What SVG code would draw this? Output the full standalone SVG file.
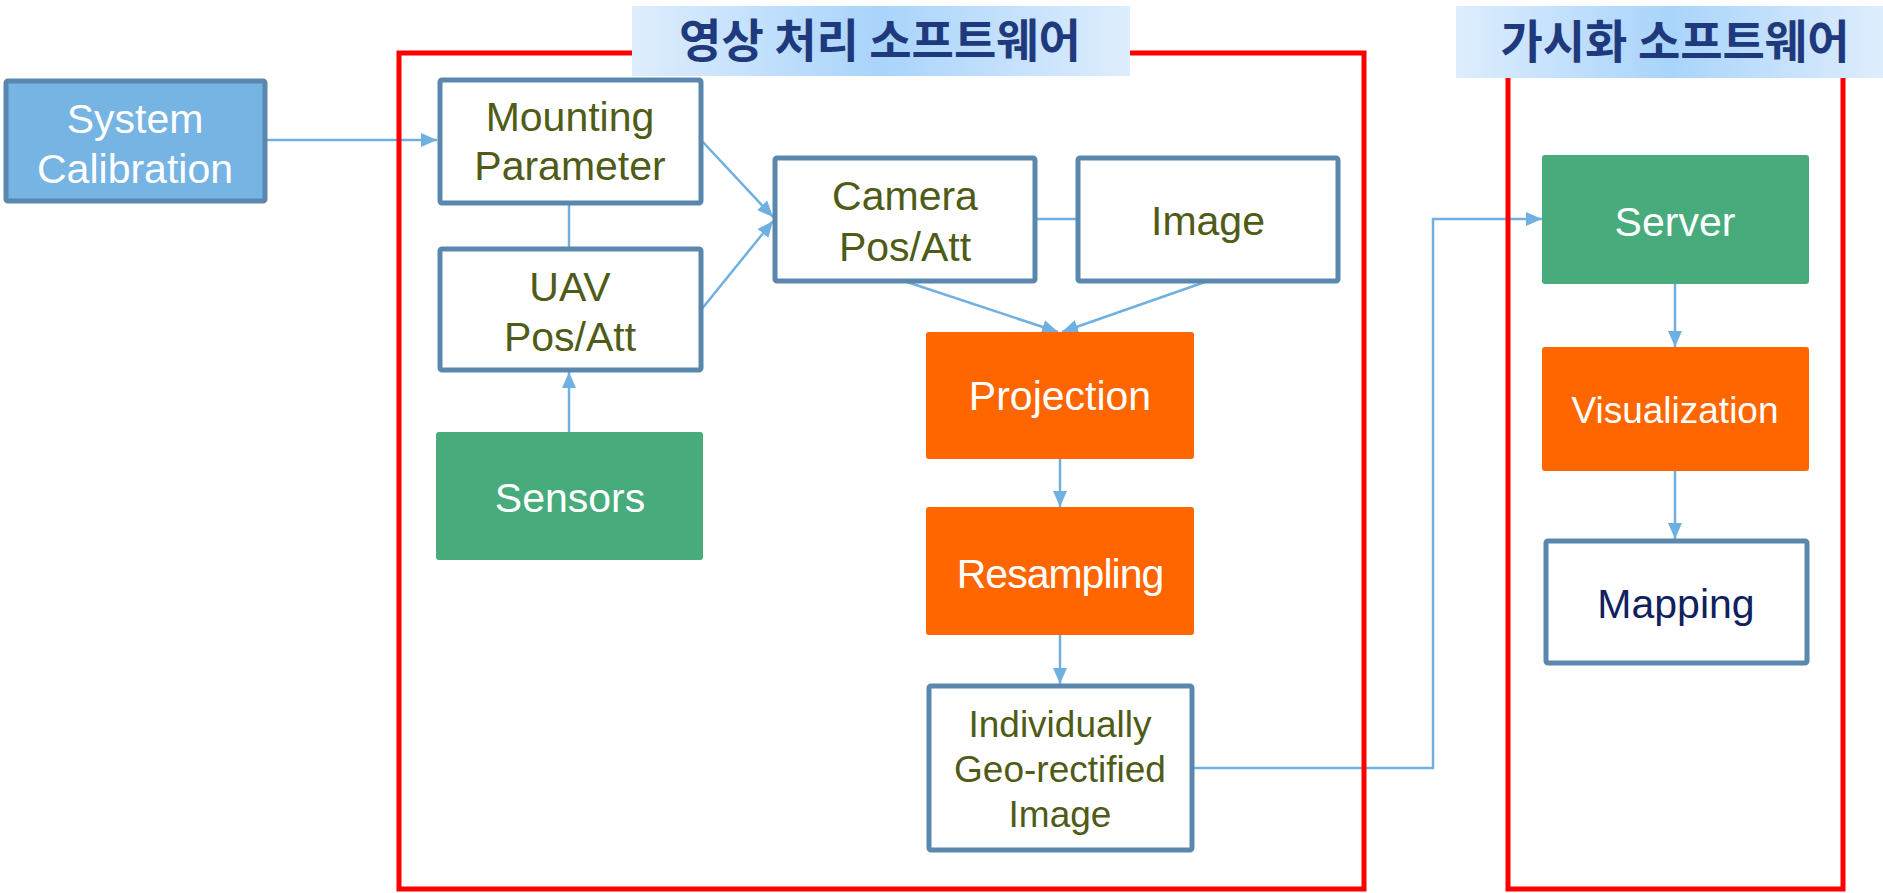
<svg xmlns="http://www.w3.org/2000/svg" width="1883" height="893" viewBox="0 0 1883 893">
<defs>
<linearGradient id="bannerGrad" x1="0" y1="0" x2="1" y2="0">
<stop offset="0" stop-color="#deedfd"/>
<stop offset="0.5" stop-color="#a9d4fb"/>
<stop offset="1" stop-color="#deedfd"/>
</linearGradient>
<marker id="arr" viewBox="0 0 16 14" refX="16" refY="7" markerWidth="16" markerHeight="14" markerUnits="userSpaceOnUse" orient="auto">
<path d="M0,0 L16,7 L0,14 Z" fill="#6fb0e0"/>
</marker>
</defs>
<style>
.conn{fill:none;stroke:#6fb0e0;stroke-width:2.5}
.frame{fill:none;stroke:#ff0000;stroke-width:5}
.banner{fill:url(#bannerGrad)}
.title{font-family:"Noto Sans CJK KR","Noto Sans CJK SC",sans-serif;font-weight:bold;font-size:46px;fill:#1f3a7c;text-anchor:middle}
.outline{fill:#ffffff;stroke:#5a87ae;stroke-width:5}
.green{fill:#47ab7c}
.orange{fill:#ff6600}
.blue{fill:#76b4e4;stroke:#5a87ae;stroke-width:5}
.t{font-family:"Liberation Sans",Arial,sans-serif;font-size:41px;text-anchor:middle}
.sm{font-size:37px}
.olive{fill:#4f5b16}
.white{fill:#ffffff}
.navy{fill:#0f215e}
</style>

<g id="connectors">
<line class="conn" x1="267" y1="140" x2="437" y2="140" marker-end="url(#arr)"/>
<line class="conn" x1="569" y1="205" x2="569" y2="247"/>
<line class="conn" x1="569" y1="432" x2="569" y2="372" marker-end="url(#arr)"/>
<line class="conn" x1="701" y1="140" x2="773" y2="217" marker-end="url(#arr)"/>
<line class="conn" x1="701" y1="310" x2="773" y2="221" marker-end="url(#arr)"/>
<line class="conn" x1="1036" y1="219" x2="1076" y2="219"/>
<line class="conn" x1="907" y1="282" x2="1058" y2="332" marker-end="url(#arr)"/>
<line class="conn" x1="1205" y1="282" x2="1062" y2="332" marker-end="url(#arr)"/>
<line class="conn" x1="1060" y1="459" x2="1060" y2="507" marker-end="url(#arr)"/>
<line class="conn" x1="1060" y1="635" x2="1060" y2="684" marker-end="url(#arr)"/>
<polyline class="conn" points="1194,768 1433,768 1433,219 1542,219" marker-end="url(#arr)"/>
<line class="conn" x1="1675" y1="283" x2="1675" y2="347" marker-end="url(#arr)"/>
<line class="conn" x1="1675" y1="471" x2="1675" y2="539" marker-end="url(#arr)"/>
</g>

<g id="frame-processing">
<rect class="frame" x="399" y="53" width="965" height="836"/>
<rect class="banner" x="632" y="6" width="498" height="70"/>
<text class="title" x="880" y="57">영상 처리 소프트웨어</text>
</g>

<g id="frame-visualization">
<rect class="frame" x="1508" y="53" width="335" height="836"/>
<rect class="banner" x="1456" y="6" width="427" height="72"/>
<text class="title" x="1675" y="58">가시화 소프트웨어</text>
</g>

<g id="system-calibration">
<rect class="blue" x="6" y="81" width="259" height="120" rx="2"/>
<text class="t white" x="135" y="133">System</text>
<text class="t white" x="135" y="183">Calibration</text>
</g>

<g id="mounting-parameter">
<rect class="outline" x="440" y="80" width="261" height="123" rx="2"/>
<text class="t olive" x="570" y="131">Mounting</text>
<text class="t olive" x="570" y="180">Parameter</text>
</g>

<g id="uav-pos-att">
<rect class="outline" x="440" y="249" width="261" height="121" rx="2"/>
<text class="t olive" x="570" y="301">UAV</text>
<text class="t olive" x="570" y="351">Pos/Att</text>
</g>

<g id="sensors">
<rect class="green" x="436" y="432" width="267" height="128" rx="3"/>
<text class="t white" x="570" y="512">Sensors</text>
</g>

<g id="camera-pos-att">
<rect class="outline" x="775" y="158" width="260" height="123" rx="2"/>
<text class="t olive" x="905" y="210">Camera</text>
<text class="t olive" x="905" y="261">Pos/Att</text>
</g>

<g id="image">
<rect class="outline" x="1078" y="158" width="260" height="123" rx="2"/>
<text class="t olive" x="1208" y="235">Image</text>
</g>

<g id="projection">
<rect class="orange" x="926" y="332" width="268" height="127" rx="3"/>
<text class="t white" x="1060" y="410">Projection</text>
</g>

<g id="resampling">
<rect class="orange" x="926" y="507" width="268" height="128" rx="3"/>
<text class="t white" x="1060" y="588" letter-spacing="-1">Resampling</text>
</g>

<g id="geo-rectified-image">
<rect class="outline" x="929" y="686" width="263" height="164" rx="2"/>
<text class="t sm olive" x="1060" y="737">Individually</text>
<text class="t sm olive" x="1060" y="782">Geo-rectified</text>
<text class="t sm olive" x="1060" y="827">Image</text>
</g>

<g id="server">
<rect class="green" x="1542" y="155" width="267" height="129" rx="3"/>
<text class="t white" x="1675" y="236">Server</text>
</g>

<g id="visualization">
<rect class="orange" x="1542" y="347" width="267" height="124" rx="3"/>
<text class="t sm white" x="1675" y="423">Visualization</text>
</g>

<g id="mapping">
<rect class="outline" x="1546" y="541" width="261" height="122" rx="2"/>
<text class="t navy" x="1676" y="618">Mapping</text>
</g>
</svg>
